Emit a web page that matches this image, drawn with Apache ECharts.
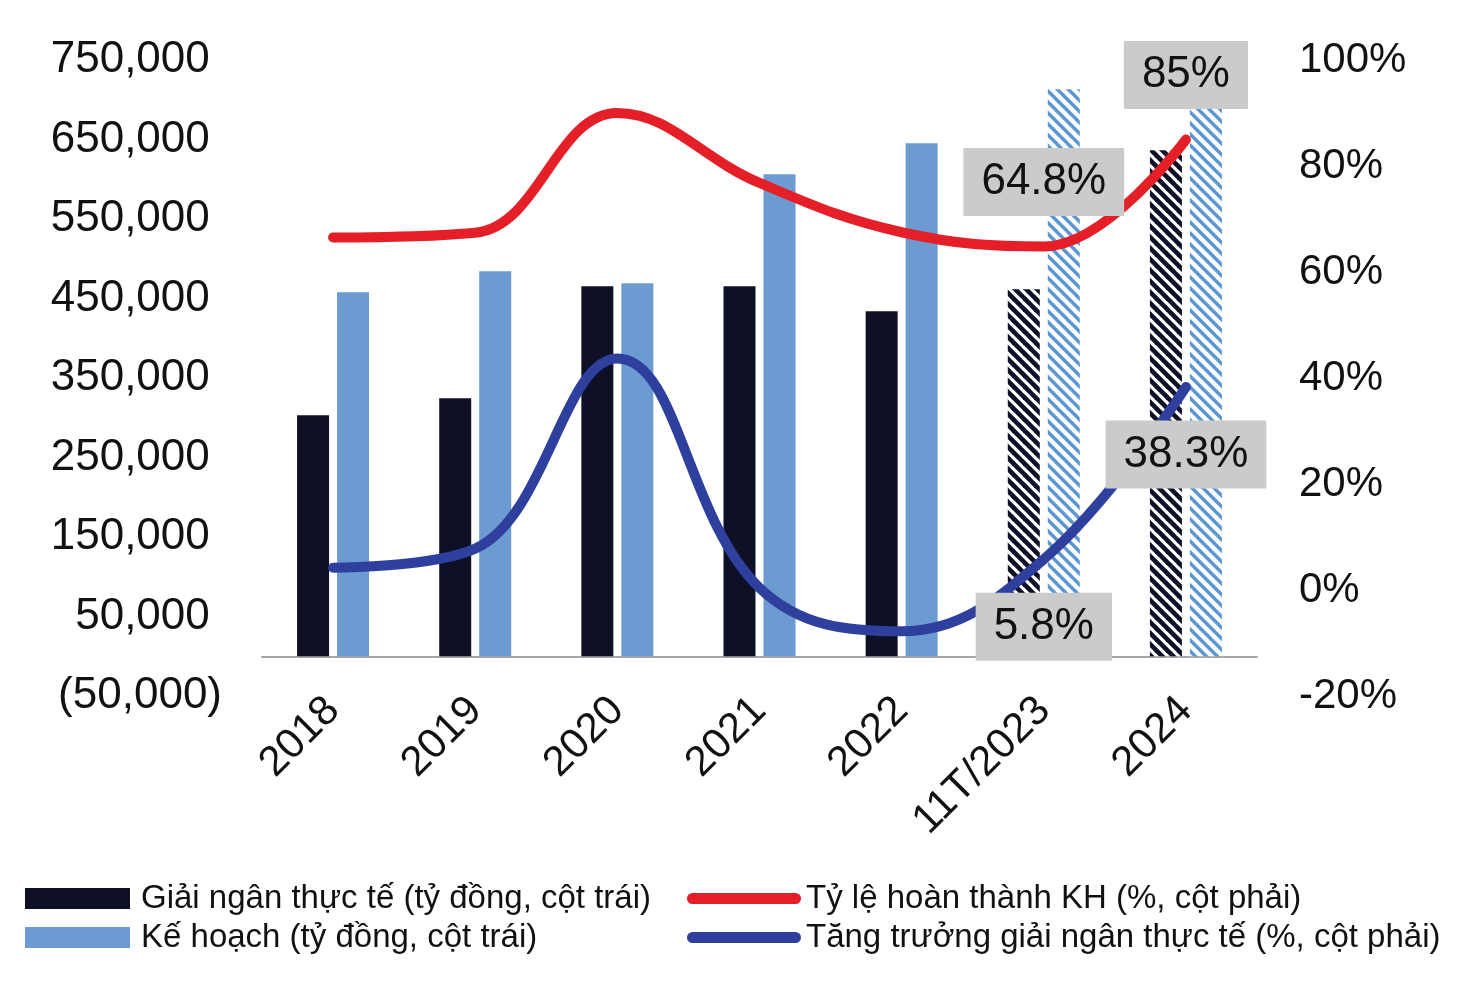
<!DOCTYPE html>
<html>
<head>
<meta charset="utf-8">
<script src="https://cdn.jsdelivr.net/npm/echarts@6/dist/echarts.min.js"></script>
<style>
  html, body { margin: 0; padding: 0; background: #ffffff; }
  #chart { width: 1476px; height: 997px; }
</style>
</head>
<body>
<div id="chart"></div>
<script>
// ---- data ----
const categories = ['2018', '2019', '2020', '2021', '2022', '11T/2023', '2024'];
const forecastCategories = ['11T/2023', '2024'];
const actualDisbursement = [303000, 324500, 465400, 465400, 434000, 461600, 636500];
const plannedAmount = [457900, 484300, 469200, 606300, 645300, 713200, 749000];
const completionRate = [66.5, 67.4, 90, 76.8, 67.5, 64.8, 85];
const disbursementGrowth = [4.2, 7.8, 43.7, 0.4, -7.8, 5.8, 38.3];
const labeledCategories = ['11T/2023', '2024'];

const seriesNames = [
  'Giải ngân thực tế (tỷ đồng, cột trái)',
  'Kế hoạch (tỷ đồng, cột trái)',
  'Tỷ lệ hoàn thành KH (%, cột phải)',
  'Tăng trưởng giải ngân thực tế (%, cột phải)'
];

// ---- styles ----
const FONT = "'Liberation Sans', Arial, sans-serif";
const TEXT = '#111111';
const DARK = '#0e1026';
const LIGHT = '#6b9bd0';
const RED = '#e41f27';
const NAVY = '#2f3f9e';

function hatch(color, width, period) {
  const c = document.createElement('canvas');
  c.width = period; c.height = period;
  const g = c.getContext('2d');
  g.fillStyle = '#ffffff';
  g.fillRect(0, 0, period, period);
  g.strokeStyle = color;
  g.lineWidth = width;
  for (const k of [-1, 0, 1]) {
    g.beginPath();
    g.moveTo(k * period - 3, -3);
    g.lineTo(k * period + period + 3, period + 3);
    g.stroke();
  }
  return c;
}
const hatchDark = { image: hatch(DARK, 4.6, 11), repeat: 'repeat' };
const hatchLight = { image: hatch('#5a96d2', 3.4, 11), repeat: 'repeat' };

function barData(values, pattern) {
  return values.map((v, i) =>
    forecastCategories.includes(categories[i])
      ? { value: v, itemStyle: { color: pattern } }
      : v);
}

const labelBox = {
  fontFamily: FONT, fontSize: 44, lineHeight: 44, color: TEXT,
  backgroundColor: '#cbcbcb', padding: [12, 18, 12, 18],
  formatter: '{c}%'
};
function lineData(values, pos, dist) {
  return values.map((v, i) =>
    labeledCategories.includes(categories[i])
      ? { value: v, label: Object.assign({ show: true, position: pos, distance: dist }, labelBox) }
      : v);
}

function fmtLeft(v) {
  if (Math.abs(Math.round(v / 50000)) % 2 !== 1) return '';
  const s = Math.abs(v).toLocaleString('en-US');
  return v < 0 ? '(' + s + ')' : s + '\u00a0';
}

const chart = echarts.init(document.getElementById('chart'), null, { renderer: 'canvas' });
chart.setOption({
  animation: false,
  backgroundColor: '#ffffff',
  textStyle: { fontFamily: FONT },
  grid: { left: 262, right: 219, top: 60, bottom: 301, outerBoundsMode: 'none' },
  legend: [
    {
      data: [seriesNames[0], seriesNames[1]],
      orient: 'vertical', left: 20, top: 877,
      itemWidth: 105, itemHeight: 21, itemGap: 6,
      icon: 'rect',
      textStyle: { fontFamily: FONT, fontSize: 33, color: TEXT, padding: [0, 0, 0, 6] }
    },
    {
      data: [seriesNames[2], seriesNames[3]],
      orient: 'vertical', left: 682, top: 877,
      itemWidth: 114, itemHeight: 11, itemGap: 6,
      icon: 'path://M5.5,0 L108.5,0 A5.5,5.5 0 0 1 108.5,11 L5.5,11 A5.5,5.5 0 0 1 5.5,0 Z',
      textStyle: { fontFamily: FONT, fontSize: 33, color: TEXT, padding: [0, 0, 0, 0] }
    }
  ],
  xAxis: {
    type: 'category',
    data: categories,
    axisLine: { onZero: true, lineStyle: { color: '#a6a6a6', width: 2 } },
    axisTick: { show: false },
    splitLine: { show: false },
    axisLabel: { rotate: 45, margin: 8, fontSize: 42, color: TEXT, fontFamily: FONT, interval: 0 }
  },
  yAxis: [
    {
      type: 'value', min: -50000, max: 750000, interval: 50000,
      axisLine: { show: false }, axisTick: { show: false }, splitLine: { show: false },
      axisLabel: { formatter: fmtLeft, fontSize: 44, color: TEXT, fontFamily: FONT, margin: 40 }
    },
    {
      type: 'value', min: -20, max: 100, interval: 20,
      axisLine: { show: false }, axisTick: { show: false }, splitLine: { show: false },
      axisLabel: { formatter: '{value}%', fontSize: 42, color: TEXT, fontFamily: FONT, margin: 42 }
    }
  ],
  series: [
    {
      name: seriesNames[0], type: 'bar', yAxisIndex: 0,
      barWidth: 32, barGap: '25%',
      itemStyle: { color: DARK },
      data: barData(actualDisbursement, hatchDark)
    },
    {
      name: seriesNames[1], type: 'bar', yAxisIndex: 0,
      barWidth: 32, barGap: '25%',
      itemStyle: { color: LIGHT },
      data: barData(plannedAmount, hatchLight)
    },
    {
      name: seriesNames[2], type: 'line', yAxisIndex: 1,
      smooth: 0.4, showSymbol: true, symbol: 'circle', symbolSize: 1,
      color: RED, itemStyle: { color: RED },
      lineStyle: { color: RED, width: 10, cap: 'round' },
      label: { show: false },
      z: 5,
      data: lineData(completionRate, 'top', 30)
    },
    {
      name: seriesNames[3], type: 'line', yAxisIndex: 1,
      smooth: 0.4, showSymbol: true, symbol: 'circle', symbolSize: 1,
      color: NAVY, itemStyle: { color: NAVY },
      lineStyle: { color: NAVY, width: 10, cap: 'round' },
      label: { show: false },
      z: 5,
      data: lineData(disbursementGrowth, 'bottom', 33)
    }
  ]
});
</script>
</body>
</html>
